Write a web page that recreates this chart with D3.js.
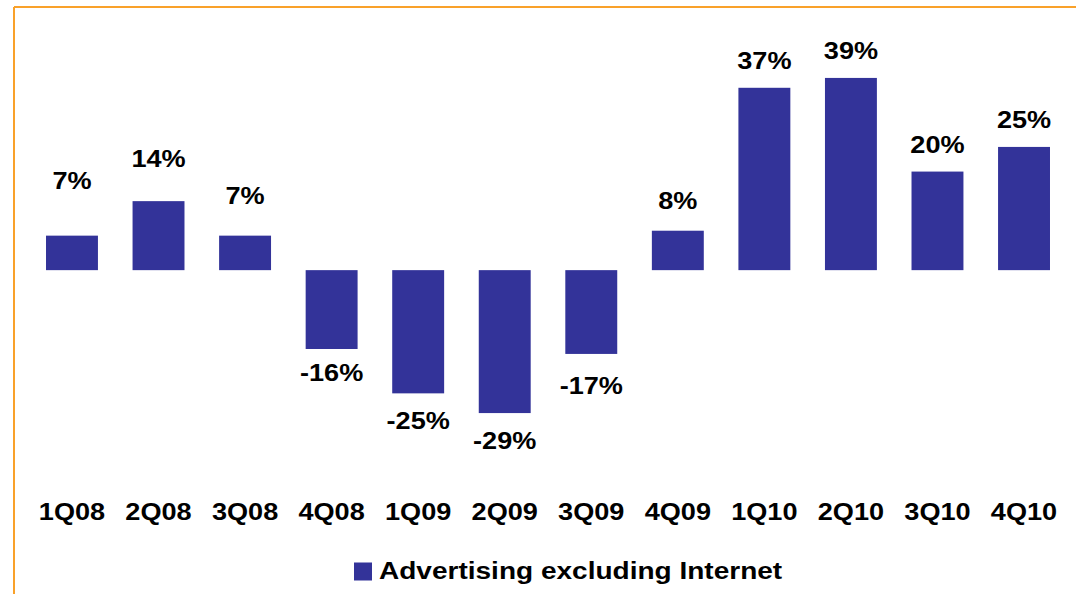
<!DOCTYPE html>
<html>
<head>
<meta charset="utf-8">
<script src="https://cdn.jsdelivr.net/npm/d3@7"></script>
<style>
  html, body { margin: 0; padding: 0; background: #fff; }
  svg { display: block; }
  text { font-family: "Liberation Sans", Arial, Helvetica, sans-serif; font-weight: bold; fill: #000; }
</style>
</head>
<body>
<script>
// Quarterly growth, advertising excluding Internet (%)
const quarters = ["1Q08", "2Q08", "3Q08", "4Q08", "1Q09", "2Q09", "3Q09", "4Q09", "1Q10", "2Q10", "3Q10", "4Q10"];
const growth = [7, 14, 7, -16, -25, -29, -17, 8, 37, 39, 20, 25];
const seriesName = "Advertising excluding Internet";

// Layout
const W = 1076, H = 594;
const barColor = "#333399";
const frameColor = "#F9A12A";
const stretch = 1.13;               // horizontal text stretch
const fontSize = 24;
// fine vertical nudges for the value labels (px, positive = further from bar)
const labelNudge = [28, 15, 13, -2, 2, 2, 6, 3, 0, 0, 0, 0];

const svg = d3.select("body").append("svg")
  .attr("width", W).attr("height", H);

// frame lines (top and left)
svg.append("line").attr("x1", 14).attr("y1", 7).attr("x2", W).attr("y2", 7)
  .attr("stroke", frameColor).attr("stroke-width", 2);
svg.append("line").attr("x1", 14).attr("y1", 7).attr("x2", 14).attr("y2", H)
  .attr("stroke", frameColor).attr("stroke-width", 2);

const x = d3.scaleBand()
  .domain(quarters)
  .range([28.7, 1067.3])
  .paddingInner(0.4)
  .paddingOuter(0.2);

const y = d3.scaleLinear()
  .domain([-30, 40])
  .range([418, 73]);

const data = quarters.map((q, i) => ({ q, v: growth[i], i }));

// bars
svg.append("g").selectAll("rect")
  .data(data)
  .join("rect")
  .attr("x", d => x(d.q))
  .attr("width", x.bandwidth())
  .attr("y", d => y(Math.max(0, d.v)))
  .attr("height", d => Math.abs(y(d.v) - y(0)))
  .attr("fill", barColor);

// value labels
svg.append("g").selectAll("text")
  .data(data)
  .join("text")
  .attr("text-anchor", "middle")
  .attr("font-size", fontSize)
  .attr("transform", d => {
    const cx = x(d.q) + x.bandwidth() / 2;
    const by = d.v >= 0
      ? y(d.v) - 19 - labelNudge[d.i]
      : y(d.v) + 34 + labelNudge[d.i];
    return `translate(${cx},${by}) scale(${stretch},1)`;
  })
  .text(d => d.v + "%");

// category axis (labels only)
const xAxis = svg.append("g")
  .attr("transform", "translate(0,519.5)")
  .call(d3.axisBottom(x).tickSize(0).tickPadding(0));
xAxis.select(".domain").remove();
xAxis.selectAll(".tick text")
  .attr("y", 0).attr("dy", 0)
  .attr("font-size", fontSize)
  .attr("font-family", null)
  .attr("fill", "#000")
  .attr("transform", `scale(${stretch},1)`);

// legend
const legend = svg.append("g");
legend.append("rect")
  .attr("x", 354).attr("y", 562.5).attr("width", 18).attr("height", 18)
  .attr("fill", barColor);
legend.append("text")
  .attr("font-size", 24.8)
  .attr("transform", `translate(379,579.3) scale(${stretch},1)`)
  .text(seriesName);
</script>
</body>
</html>
